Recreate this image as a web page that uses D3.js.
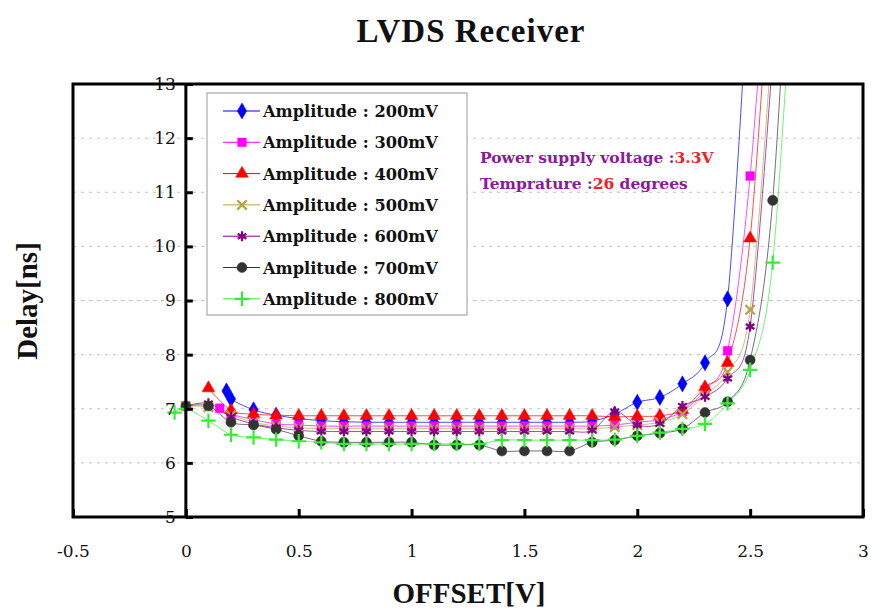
<!DOCTYPE html>
<html>
<head>
<meta charset="utf-8">
<script src="https://cdn.jsdelivr.net/npm/d3@7"></script>
<style>
  body { margin: 0; background: #fff; }
  svg text { font-family: "DejaVu Serif", "Liberation Serif", serif; }
</style>
</head>
<body>
<div id="chart"></div>
<script>
// DATA ##################################################

const offsets = [-0.05, 0, 0.1, 0.15, 0.18, 0.2, 0.3, 0.4, 0.5, 0.6, 0.7, 0.8, 0.9, 1.0,
                 1.1, 1.2, 1.3, 1.4, 1.5, 1.6, 1.7, 1.8, 1.9, 2.0, 2.1, 2.2, 2.3, 2.4, 2.5, 2.6, 2.7];

const amp200 = [null, null, null, null, 7.33, 7.18, 6.98, 6.88, 6.82, 6.78, 6.76, 6.75, 6.75, 6.75,
                6.75, 6.75, 6.75, 6.75, 6.75, 6.75, 6.75, 6.77, 6.9, 7.12, 7.21, 7.46, 7.85, 9.03, 15.5, null, null];
const amp300 = [null, null, null, 7.01, null, 6.9, 6.8, 6.72, 6.7, 6.68, 6.68, 6.68, 6.68, 6.68,
                6.68, 6.68, 6.68, 6.68, 6.68, 6.68, 6.68, 6.68, 6.7, 6.75, 6.8, 6.95, 7.35, 8.07, 11.3, 17, null];
const amp400 = [null, null, 7.38, null, null, 6.97, 6.9, 6.88, 6.87, 6.87, 6.87, 6.87, 6.87, 6.87,
                6.87, 6.87, 6.87, 6.87, 6.87, 6.87, 6.87, 6.87, 6.85, 6.86, 6.87, 6.98, 7.4, 7.85, 10.15, 16, null];
const amp500 = [null, 7.05, 7.03, null, null, 6.88, 6.75, 6.68, 6.65, 6.63, 6.63, 6.63, 6.63, 6.63,
                6.63, 6.63, 6.63, 6.63, 6.63, 6.63, 6.63, 6.63, 6.66, 6.7, 6.75, 6.9, 7.25, 7.68, 8.83, 14, null];
const amp600 = [null, 7.05, 7.1, null, null, 6.85, 6.72, 6.65, 6.6, 6.58, 6.58, 6.58, 6.58, 6.58,
                6.58, 6.58, 6.58, 6.58, 6.58, 6.58, 6.58, 6.6, 6.95, 6.7, 6.72, 7.05, 7.22, 7.56, 8.52, 13.5, null];
const amp700 = [null, 7.05, 7.05, null, null, 6.75, 6.7, 6.62, 6.5, 6.4, 6.38, 6.38, 6.38, 6.38,
                6.33, 6.33, 6.33, 6.22, 6.22, 6.22, 6.22, 6.38, 6.42, 6.5, 6.55, 6.63, 6.93, 7.13, 7.9, 10.85, 18];
const amp800 = [6.93, 7.0, 6.78, null, null, 6.52, 6.47, 6.43, 6.4, 6.38, 6.35, 6.35, 6.35, 6.35,
                6.35, 6.35, 6.35, 6.42, 6.42, 6.42, 6.42, 6.42, 6.43, 6.5, 6.56, 6.63, 6.72, 7.1, 7.72, 9.7, 16];

const seriesNames = ["Amplitude : 200mV", "Amplitude : 300mV", "Amplitude : 400mV", "Amplitude : 500mV",
                     "Amplitude : 600mV", "Amplitude : 700mV", "Amplitude : 800mV"];
const seriesValues = [amp200, amp300, amp400, amp500, amp600, amp700, amp800];

const xTicks = [-0.5, 0, 0.5, 1, 1.5, 2, 2.5, 3];
const yTicks = [5, 6, 7, 8, 9, 10, 11, 12, 13];

// STYLE ##################################################
const colors = ["#0000ff", "#ff00ff", "#ff0000", "#b8a048", "#800080", "#333333", "#33ee33"];
const symbols = [d3.symbolDiamond, d3.symbolSquare, d3.symbolTriangle,
                 d3.symbolTimes || d3.symbolCross, d3.symbolAsterisk || d3.symbolCross,
                 d3.symbolCircle, d3.symbolPlus || d3.symbolCross];
const stroked = [false, false, false, true, true, false, true];
const symSize = [75, 75, 70, 60, 70, 80, 70];

const width = 879, height = 615;
const plotLeft = 73, plotRight = 863, plotTop = 84, plotBottom = 517;

// SCALES ##################################################
const xScale = d3.scaleLinear().domain([-0.5, 3]).range([plotLeft, plotRight]);
const yScale = d3.scaleLinear().domain([5, 13]).range([plotBottom, plotTop]);

const svg = d3.select("#chart").append("svg")
    .attr("width", width)
    .attr("height", height);

svg.append("defs").append("clipPath").attr("id", "plot")
  .append("rect")
    .attr("x", plotLeft).attr("y", plotTop)
    .attr("width", plotRight - plotLeft).attr("height", plotBottom - plotTop);

// GRID ------------------------------------------------------
svg.append("g")
    .selectAll("line")
    .data(yTicks.slice(1, -1))
    .join("line")
    .attr("x1", plotLeft).attr("x2", plotRight)
    .attr("y1", d => yScale(d)).attr("y2", d => yScale(d))
    .attr("stroke", "#c0c0c0")
    .attr("stroke-width", 1)
    .attr("stroke-dasharray", "3,5");

// SERIES ------------------------------------------------------
const line = d3.line()
    .x(d => xScale(d.x))
    .y(d => yScale(d.y))
    .curve(d3.curveCatmullRom.alpha(0));

const plot = svg.append("g").attr("clip-path", "url(#plot)");

seriesValues.forEach((vals, i) => {
  const pts = offsets.map((x, j) => ({x: x, y: vals[j]})).filter(d => d.y != null);
  plot.append("path")
      .datum(pts)
      .attr("d", line)
      .attr("fill", "none")
      .attr("stroke", colors[i])
      .attr("stroke-opacity", 0.7)
      .attr("stroke-width", 1);
});

seriesValues.forEach((vals, i) => {
  const pts = offsets.map((x, j) => ({x: x, y: vals[j]})).filter(d => d.y != null && d.y <= 13);
  plot.append("g")
    .selectAll("path")
    .data(pts)
    .join("path")
      .attr("transform", d => `translate(${xScale(d.x)},${yScale(d.y)})`)
      .attr("d", d3.symbol().type(symbols[i]).size(symSize[i]))
      .attr("fill", stroked[i] ? "none" : colors[i])
      .attr("stroke", colors[i])
      .attr("stroke-width", stroked[i] ? 2.2 : 0.5);
});

// FRAME AND AXES ------------------------------------------------------
svg.append("rect")
    .attr("x", plotLeft).attr("y", plotTop)
    .attr("width", plotRight - plotLeft).attr("height", plotBottom - plotTop)
    .attr("fill", "none")
    .attr("stroke", "#000")
    .attr("stroke-width", 3);

const xAxis = svg.append("g")
    .attr("transform", `translate(0,${plotBottom})`)
    .call(d3.axisBottom(xScale).tickValues(xTicks).tickSizeInner(-8).tickSizeOuter(0)
          .tickPadding(28).tickFormat(d => String(d)));
xAxis.select(".domain").remove();
xAxis.selectAll(".tick line").attr("stroke-width", 3);
xAxis.selectAll("text").style("font-size", "17px").attr("fill", "#111");

const yAxis = svg.append("g")
    .attr("transform", `translate(${xScale(0)},0)`)
    .call(d3.axisLeft(yScale).tickValues(yTicks).tickSizeInner(-7).tickSizeOuter(0)
          .tickPadding(10).tickFormat(d3.format("d")));
yAxis.select(".domain").attr("stroke-width", 3).attr("d", `M0,${plotTop}V${plotBottom}`);
yAxis.selectAll(".tick line").attr("stroke-width", 3);
yAxis.selectAll("text").style("font-size", "17px").attr("fill", "#111");

// LEGEND ------------------------------------------------------
const legend = svg.append("g").attr("transform", "translate(207,93)");
legend.append("rect")
    .attr("width", 260).attr("height", 222)
    .attr("fill", "#fff")
    .attr("stroke", "#999")
    .attr("stroke-width", 1);

seriesNames.forEach((name, i) => {
  const yy = 18 + i * 31.3;
  legend.append("line")
      .attr("x1", 16).attr("x2", 53).attr("y1", yy).attr("y2", yy)
      .attr("stroke", colors[i]).attr("stroke-width", 1);
  legend.append("path")
      .attr("transform", `translate(35,${yy})`)
      .attr("d", d3.symbol().type(symbols[i]).size(symSize[i]))
      .attr("fill", stroked[i] ? "none" : colors[i])
      .attr("stroke", colors[i])
      .attr("stroke-width", stroked[i] ? 2.2 : 0.5);
  legend.append("text")
      .attr("x", 56).attr("y", yy + 6)
      .style("font-size", "16.2px")
      .style("font-weight", "bold")
      .attr("fill", "#111")
      .text(name);
});

// NOTE ------------------------------------------------------
const note1 = svg.append("text").attr("x", 480).attr("y", 163)
    .style("font-size", "15.5px").style("font-weight", "bold");
note1.append("tspan").attr("fill", "#8a1a9a").text("Power supply voltage :");
note1.append("tspan").attr("fill", "#ee2222").text("3.3V");

const note2 = svg.append("text").attr("x", 480).attr("y", 189)
    .style("font-size", "15.5px").style("font-weight", "bold");
note2.append("tspan").attr("fill", "#8a1a9a").text("Temprature :");
note2.append("tspan").attr("fill", "#ee2222").text("26");
note2.append("tspan").attr("fill", "#8a1a9a").text(" degrees");

// TITLES ------------------------------------------------------
svg.append("text")
    .attr("x", 471).attr("y", 42)
    .attr("text-anchor", "middle")
    .style("font-family", "'Liberation Serif', serif")
    .style("font-size", "33px")
    .style("letter-spacing", "1px")
    .style("font-weight", "bold")
    .attr("fill", "#111")
    .text("LVDS Receiver");

svg.append("text")
    .attr("x", 469).attr("y", 603)
    .attr("text-anchor", "middle")
    .style("font-family", "'Liberation Serif', serif")
    .style("font-size", "29px")
    .style("font-weight", "bold")
    .attr("fill", "#111")
    .text("OFFSET[V]");

svg.append("text")
    .attr("transform", "translate(37,301) rotate(-90)")
    .attr("text-anchor", "middle")
    .style("font-family", "'Liberation Serif', serif")
    .style("font-size", "29px")
    .style("font-weight", "bold")
    .attr("fill", "#111")
    .text("Delay[ns]");
</script>
</body>
</html>
